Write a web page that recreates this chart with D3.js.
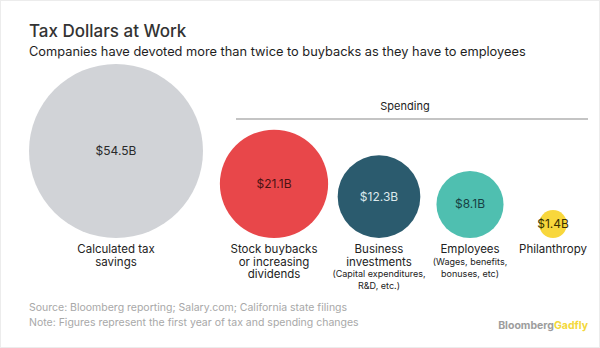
<!DOCTYPE html>
<html>
<head>
<meta charset="utf-8">
<script src="https://cdn.jsdelivr.net/npm/d3@7"></script>
<style>
  html, body { margin: 0; padding: 0; background: #fff; }
  svg { display: block; font-family: "Inter", "Roboto", sans-serif; }
</style>
</head>
<body>
<svg id="chart" width="600" height="348"></svg>
<script>
// chart data
var categories = ["Calculated tax savings", "Stock buybacks or increasing dividends",
                  "Business investments", "Employees", "Philanthropy"];
var values = [54.5, 21.1, 12.3, 8.1, 1.4];
var labelLines = [
    ["Calculated tax", "savings"],
    ["Stock buybacks", "or increasing", "dividends"],
    ["Business", "investments"],
    ["Employees"],
    ["Philanthropy"]
];
var noteLines = [
    [],
    [],
    ["(Capital expenditures,", "R&D, etc.)"],
    ["(Wages, benefits,", "bonuses, etc)"],
    []
];
var fills = ["#d1d3d7", "#e8474a", "#2b5b6e", "#4fbfb0", "#f8d73c"];
var valueColors = ["#2a2a2a", "#4a1212", "#dce8ec", "#173f44", "#3a3000"];

var title = "Tax Dollars at Work";
var subtitle = "Companies have devoted more than twice to buybacks as they have to employees";
var groupLabel = "Spending";
var footnotes = ["Source: Bloomberg reporting; Salary.com; California state filings",
                 "Note: Figures represent the first year of tax and spending changes"];

// layout
var svg = d3.select("#chart");
var baseY = 238;          // all circles sit on this line
var colX = [116, 274, 379, 470, 553];

// circle area proportional to the dollar amount
var r = d3.scaleSqrt()
    .domain([0, d3.max(values)])
    .range([0, 87]);

var data = categories.map(function(c, i) {
    return { name: c, value: values[i], lines: labelLines[i], notes: noteLines[i],
             fill: fills[i], textFill: valueColors[i], x: colX[i] };
});

// frame
svg.append("rect")
    .attr("x", 0.5).attr("y", 0.5)
    .attr("width", 599).attr("height", 347)
    .attr("fill", "none")
    .attr("stroke", "#ececec");

// titles
svg.append("text")
    .attr("x", 29).attr("y", 37)
    .attr("font-size", 17)
    .attr("font-weight", 500)
    .attr("fill", "#333")
    .text(title);

svg.append("text")
    .attr("x", 29).attr("y", 56)
    .attr("font-size", 12.8)
    .attr("fill", "#1e1e1e")
    .text(subtitle);

// spending bracket
svg.append("text")
    .attr("x", 405).attr("y", 110)
    .attr("text-anchor", "middle")
    .attr("font-size", 11)
    .attr("fill", "#222")
    .text(groupLabel);

svg.append("line")
    .attr("x1", 236).attr("x2", 588)
    .attr("y1", 119).attr("y2", 119)
    .attr("stroke", "#8a8a8a")
    .attr("stroke-width", 1.2);

// bubbles
var g = svg.selectAll("g.bubble")
    .data(data)
    .enter()
    .append("g")
    .attr("class", "bubble")
    .attr("transform", function(d) { return "translate(" + d.x + ",0)"; });

g.append("circle")
    .attr("cx", 0)
    .attr("cy", function(d) { return baseY - r(d.value); })
    .attr("r", function(d) { return r(d.value); })
    .attr("fill", function(d) { return d.fill; });

g.append("text")
    .attr("x", 0)
    .attr("y", function(d) { return baseY - r(d.value) + 4; })
    .attr("text-anchor", "middle")
    .attr("font-size", 12)
    .attr("fill", function(d) { return d.textFill; })
    .text(function(d) { return "$" + d.value.toFixed(1) + "B"; });

// category labels below each bubble
g.each(function(d) {
    var sel = d3.select(this);
    var y = baseY + 15;
    d.lines.forEach(function(line) {
        sel.append("text")
            .attr("x", 0).attr("y", y)
            .attr("text-anchor", "middle")
            .attr("font-size", 11.5)
            .attr("fill", "#222")
            .text(line);
        y += 12.6;
    });
    d.notes.forEach(function(line) {
        sel.append("text")
            .attr("x", 0).attr("y", y - 1)
            .attr("text-anchor", "middle")
            .attr("font-size", 9)
            .attr("fill", "#222")
            .text(line);
        y += 12;
    });
});

// footer
svg.selectAll("text.foot")
    .data(footnotes)
    .enter()
    .append("text")
    .attr("class", "foot")
    .attr("x", 29)
    .attr("y", function(d, i) { return 311 + i * 14.5; })
    .attr("font-size", 10.5)
    .attr("fill", "#a8a8a8")
    .text(function(d) { return d; });

var brand = svg.append("text")
    .attr("x", 588).attr("y", 329)
    .attr("text-anchor", "end")
    .attr("font-size", 10.5)
    .attr("font-weight", 700);
brand.append("tspan").attr("fill", "#9d9d9d").text("Bloomberg");
brand.append("tspan").attr("fill", "#f3d83a").text("Gadfly");
</script>
</body>
</html>
